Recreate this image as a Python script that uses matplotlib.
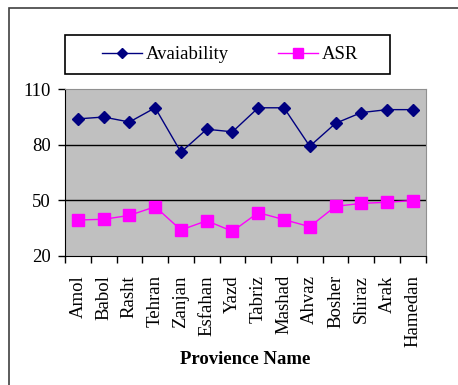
import matplotlib
matplotlib.use("Agg")
import matplotlib.pyplot as plt
from matplotlib.patches import Rectangle
from matplotlib.lines import Line2D

plt.rcParams['font.family'] = ['Liberation Serif', 'DejaVu Serif']

provinces = ["Amol", "Babol", "Rasht", "Tehran", "Zanjan", "Esfahan", "Yazd",
             "Tabriz", "Mashad", "Ahvaz", "Bosher", "Shiraz", "Arak", "Hamedan"]
availability = [94, 95, 92.3, 100, 76, 88.4, 87, 100, 100, 79.2, 91.6, 97.4, 99, 99]
asr = [39.3, 39.7, 41.8, 46.5, 33.9, 38.9, 33.2, 43.3, 39.5, 35.7, 46.7, 48.3, 48.9, 49.8]
y_ticks = [20, 50, 80, 110]

W, H = 458, 385
fig = plt.figure(figsize=(W / 100, H / 100), dpi=100)

# outer chart frame (left and top edges visible)
fig.patches.append(Rectangle((8.5 / W, -0.1), 1.2, 1 - 8 / H + 0.1,
                             transform=fig.transFigure, fill=False,
                             edgecolor='#404040', linewidth=1.2))
# legend box
fig.patches.append(Rectangle((65 / W, 1 - 74 / H), 325 / W, 39 / H,
                             transform=fig.transFigure, fill=False,
                             edgecolor='black', linewidth=1.2))

ax = fig.add_axes([65 / W, 1 - 255.7 / H, (425.7 - 65) / W, (255.7 - 89.3) / H])
ax.set_facecolor('#c0c0c0')

x = list(range(len(provinces)))
ax.plot(x, availability, color='#000080', marker='D', markersize=6.5,
        linewidth=1.0, label='Avaiability', zorder=3)
ax.plot(x, asr, color='#ff00ff', marker='s', markersize=8.5,
        linewidth=1.0, label='ASR', zorder=3)

ax.set_xlim(-0.5, len(provinces) - 0.5)
ax.set_ylim(20, 110)
ax.set_yticks(y_ticks)
ax.set_yticklabels([str(v) for v in y_ticks], fontsize=13.5)
for v in y_ticks[1:-1]:
    ax.axhline(v, color='black', linewidth=1.0, zorder=2)

ax.set_xticks([i - 0.5 for i in range(len(provinces) + 1)])
ax.set_xticklabels([])
ax.set_xticks(x, minor=True)
ax.set_xticklabels(provinces, minor=True, rotation=90, fontsize=13.5)
ax.tick_params(axis='x', which='minor', length=0, pad=14)
ax.tick_params(axis='x', which='major', direction='out', length=5, width=1)
ax.tick_params(axis='y', direction='out', length=5, width=1, pad=5)

for side in ('top', 'right'):
    ax.spines[side].set_color('#909090')
for side in ('left', 'bottom'):
    ax.spines[side].set_color('black')

ax.set_xlabel('Provience Name', fontsize=13.5, fontweight='bold', labelpad=3)

handles = [Line2D([], [], color='#000080', marker='D', markersize=5.5, linewidth=1.0),
           Line2D([], [], color='#ff00ff', marker='s', markersize=7.5, linewidth=1.0)]
leg = fig.legend(handles, ['Avaiability', 'ASR'], ncol=2, fontsize=13.5,
                 loc='center', bbox_to_anchor=(230 / W, 1 - 54.5 / H),
                 frameon=False, handlelength=2.1, columnspacing=2.65,
                 handletextpad=0.2, borderpad=0.3, borderaxespad=0)

fig.savefig('out.png', dpi=100, facecolor='white')
